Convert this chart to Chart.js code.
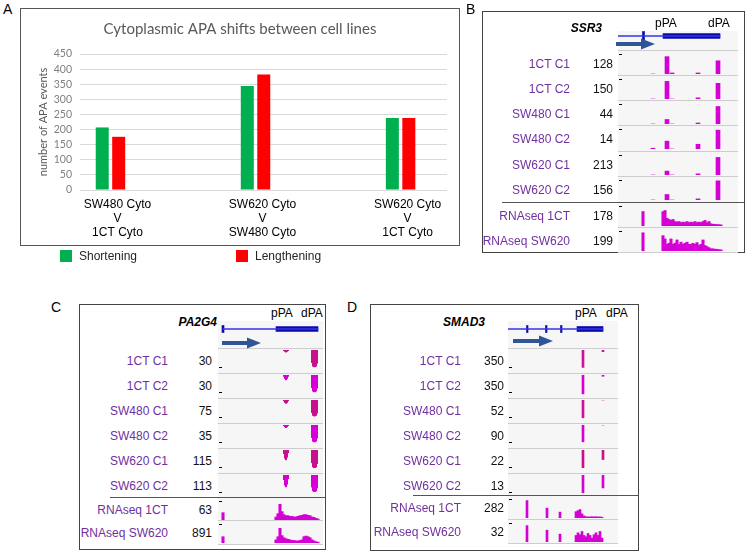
<!DOCTYPE html>
<html>
<head>
<meta charset="utf-8">
<script src="https://cdn.jsdelivr.net/npm/chart.js@4.4.0/dist/chart.umd.min.js"></script>
<style>
  body { margin: 0; width: 746px; height: 554px; position: relative; background: #fff; overflow: hidden;
         font-family: "Liberation Sans", Arial, sans-serif; }
  .abs { position: absolute; white-space: nowrap; }
  canvas { position: absolute; }
</style>
</head>
<body>
<canvas id="chartA" width="440" height="238" style="left:20px;top:8px;"></canvas>
<script>
// ---- Panel A data ----
const groupLabels = [['SW480 Cyto', 'V', '1CT Cyto'], ['SW620 Cyto', 'V', 'SW480 Cyto'], ['SW620 Cyto', 'V', '1CT Cyto']];
const seriesNames = ['Shortening', 'Lengthening'];
const shortening = [207, 344, 238];
const lengthening = [176, 382, 238];

// ---- Browser track data (panels B, C, D) ----
const trackNames = ['1CT C1', '1CT C2', 'SW480 C1', 'SW480 C2', 'SW620 C1', 'SW620 C2', 'RNAseq 1CT', 'RNAseq SW620'];

// SSR3
const ssr3Ranges = [128, 150, 44, 14, 213, 156, 178, 199];
const ssr3Intron = [-1, 102];
const ssr3Exons = [[24.5, 26.5, 9], [45, 102, 5]];
const ssr3PasX = [35, 49, 54, 80, 100];
const ssr3Pas = [
  [0, 101, 6, 6, 77],
  [0, 120, 0, 8, 107],
  [0, 9, 0, 2, 35],
  [0.5, 5, 0, 3, 12],
  [0, 38, 0, 11, 170],
  [0, 39, 0, 8, 136]
];
const ssr3RnaX = [25, 45, 47, 49, 51, 53, 55, 57, 59, 61, 63, 65, 67, 69, 71, 73, 75, 77, 79, 81, 83, 85, 87, 89, 91, 93, 95, 97, 99, 101, 103];
const ssr3Rna = [
  [117, 116, 125, 62, 53, 45, 53, 36, 32, 36, 27, 32, 27, 36, 27, 32, 27, 36, 27, 32, 27, 36, 45, 27, 36, 18, 14, 14, 11, 11, 9],
  [165, 139, 109, 60, 70, 109, 60, 70, 100, 60, 80, 60, 70, 80, 60, 60, 70, 60, 76, 50, 60, 100, 50, 40, 30, 20, 20, 16, 16, 12, 10]
];

// PA2G4
const pa2g4Ranges = [30, 30, 75, 35, 115, 113, 63, 891];
const pa2g4Intron = [5, 100];
const pa2g4Exons = [[4, 6, 7], [58, 100, 5]];
const pa2g4PasX = [66, 67, 68, 69, 70, 94, 95, 96, 97, 98, 99];
const pa2g4Pas = [
  [1, 2, 3, 2, 1, 18, 23, 24, 24, 23, 19],
  [2, 5, 7, 5, 2, 18, 23, 24, 24, 23, 19],
  [3, 9, 12, 9, 3, 45, 55, 57, 57, 55, 47],
  [1, 3, 4.5, 3, 1, 21, 27, 28, 28, 27, 22],
  [20, 45, 54, 40, 15, 70, 92, 97, 97, 93, 75],
  [25, 55, 64, 50, 20, 65, 85, 89, 89, 86, 70]
];
const pa2g4RnaX = [5, 58, 60, 62, 64, 66, 68, 70, 72, 74, 76, 78, 80, 82, 84, 86, 88, 90, 92, 94, 96, 98, 100];
const pa2g4Rna = [
  [22, 9, 19, 47, 25, 16, 13, 13, 11, 11, 9, 9, 11, 13, 14, 16, 16, 14, 13, 9, 8, 5, 3],
  [267, 134, 267, 624, 312, 223, 178, 160, 134, 107, 107, 89, 89, 107, 134, 267, 294, 267, 223, 134, 89, 53, 36]
];

// SMAD3
const smad3Ranges = [350, 350, 52, 90, 22, 13, 282, 32];
const smad3Intron = [0, 95];
const smad3Exons = [[18.5, 20, 7], [37.5, 39, 7], [52.5, 54, 7], [69, 95, 5]];
const smad3PasX = [75, 95];
const smad3Pas = [[290, 28], [315, 21], [44, 0], [72, 0], [18.5, 10], [11, 8]];
const smad3RnaX = [19, 39, 52, 68, 70, 72, 74, 76, 78, 80, 82, 84, 86, 88, 90, 92, 94];
const smad3Rna = [
  [234, 133, 79, 85, 99, 113, 56, 28, 17, 14, 14, 17, 14, 17, 14, 14, 11],
  [25, 18, 12, 10, 14, 11, 16, 10, 8, 13, 10, 6, 11, 14, 10, 16, 6]
];

// small DOM helpers
function box(css) {
  const d = document.createElement('div');
  d.className = 'abs';
  d.style.cssText += css;
  document.body.appendChild(d);
  return d;
}
function text(t, css) {
  const d = box(css);
  d.textContent = t;
  return d;
}

// ---- Panel A ----
text('A', 'left:3px;top:2px;font-size:14px;line-height:14px;');
box('left:20px;top:8px;width:438px;height:236px;border:1px solid #555;');

const colorsA = ['#00b050', '#ff0000'];
const chartA = new Chart(document.getElementById('chartA'), {
  type: 'bar',
  data: {
    datasets: [shortening, lengthening].map((vals, k) => ({
      label: seriesNames[k],
      data: vals.map((v, i) => ({ x: i, y: v })),
      backgroundColor: colorsA[k],
      categoryPercentage: 0.227,
      barPercentage: 0.79
    }))
  },
  options: {
    responsive: false,
    animation: false,
    events: [],
    layout: { padding: { left: 13, right: 13, top: 0, bottom: 0 } },
    plugins: {
      legend: { display: false },
      tooltip: { enabled: false },
      title: {
        display: true,
        text: 'Cytoplasmic APA shifts between cell lines',
        color: '#595959',
        font: { family: 'Lato', size: 15, weight: 'normal' },
        padding: { top: 12, bottom: 16 }
      }
    },
    scales: {
      x: {
        type: 'linear',
        offset: false,
        min: -0.21,
        max: 2.32,
        grid: { display: false },
        border: { display: false },
        afterBuildTicks: s => { s.ticks = groupLabels.map((g, i) => ({ value: i })); },
        afterFit: s => { s.height = 56; },
        ticks: {
          callback: v => groupLabels[v],
          color: '#000',
          font: { family: 'Liberation Sans', size: 12 },
          padding: -1,
          labelOffset: 7,
          maxRotation: 0,
          autoSkip: false
        }
      },
      y: {
        min: 0,
        max: 450,
        afterFit: s => { s.width = 47; },
        ticks: { stepSize: 50, autoSkip: false, color: '#7f7f7f', font: { family: 'Lato', size: 10.5 }, padding: 8 },
        grid: { color: '#d9d9d9', drawTicks: false },
        border: { display: false },
        title: { display: true, text: 'number of APA events', color: '#595959', font: { family: 'Lato', size: 11 } }
      }
    }
  }
});

// html legend under the box, built from the datasets
const legendX = [60, 236];
chartA.data.datasets.forEach((ds, k) => {
  box(`left:${legendX[k]}px;top:250px;width:12px;height:12px;background:${ds.backgroundColor};`);
  text(ds.label, `left:${legendX[k] + 19}px;top:248px;font-size:12px;line-height:16px;color:#262626;`);
});

// ---- Panels B, C, D ----
const panels = [
  {
    letter: 'B', letterPos: [466, 2], frame: [482, 11, 261, 240],
    gene: 'SSR3', geneRight: 602, geneY: 28, pPA: 655, dPA: 708, paY: 23,
    trackX: 618, trackW: 120, modelTop: 31, modelY: 36, arrow: [616, 655, 42],
    rowTops: [50, 75, 100, 125, 151, 176, 202, 227], rowH: 25,
    labelRight: 570, numRight: 613, divider: [502, 744],
    ranges: ssr3Ranges, intron: ssr3Intron, exons: ssr3Exons,
    pasX: ssr3PasX, pas: ssr3Pas, rnaX: ssr3RnaX, rna: ssr3Rna,
    inverted: false, pasBar: 4, rnaBar: 2.4,
    pasColors: ['#d400d4', '#d400d4', '#d400d4', '#d400d4', '#d400d4', '#d400d4']
  },
  {
    letter: 'C', letterPos: [51, 300], frame: [79, 304, 245, 244],
    gene: 'PA2G4', geneRight: 217, geneY: 322, pPA: 271, dPA: 301, paY: 313,
    trackX: 218, trackW: 105, modelTop: 321, modelY: 329, arrow: [222, 261, 341],
    rowTops: [348, 373, 398, 423, 448, 473, 497, 520], rowH: 24,
    labelRight: 168, numRight: 212, divider: [110, 325],
    ranges: pa2g4Ranges, intron: pa2g4Intron, exons: pa2g4Exons,
    pasX: pa2g4PasX, pas: pa2g4Pas, rnaX: pa2g4RnaX, rna: pa2g4Rna,
    inverted: true, pasBar: 1.4, rnaBar: 2.4,
    pasColors: ['#c8108c', '#d400d4', '#c8108c', '#d400d4', '#c8108c', '#d400d4']
  },
  {
    letter: 'D', letterPos: [347, 300], frame: [370, 304, 267, 245],
    gene: 'SMAD3', geneRight: 485, geneY: 322, pPA: 575, dPA: 606, paY: 313,
    trackX: 508, trackW: 110, modelTop: 321, modelY: 329, arrow: [513, 553, 339],
    rowTops: [348, 373, 398, 423, 448, 473, 495, 519], rowH: 24,
    labelRight: 461, numRight: 504, divider: [413, 638],
    ranges: smad3Ranges, intron: smad3Intron, exons: smad3Exons,
    pasX: smad3PasX, pas: smad3Pas, rnaX: smad3RnaX, rna: smad3Rna,
    inverted: true, pasBar: 2, rnaBar: 2,
    pasColors: ['#d0109a', '#d400d4', '#d0109a', '#d400d4', '#c8108c', '#d400d4']
  }
];

function trackChart(left, top, w, h, xs, vals, max, color, thick, reverse) {
  const c = document.createElement('canvas');
  c.width = w;
  c.height = h;
  c.style.left = left + 'px';
  c.style.top = top + 'px';
  document.body.appendChild(c);
  new Chart(c, {
    type: 'bar',
    data: { datasets: [{ data: xs.map((x, i) => ({ x, y: vals[i] })), backgroundColor: color, barThickness: thick }] },
    options: {
      responsive: false, animation: false, events: [],
      plugins: { legend: { display: false }, tooltip: { enabled: false } },
      layout: { padding: 0 },
      scales: {
        x: { type: 'linear', offset: false, min: 0, max: w, display: false },
        y: { min: 0, max, reverse, display: false }
      }
    }
  });
}

function geneModel(p) {
  const c = document.createElement('canvas');
  c.width = p.trackW;
  c.height = 12;
  c.style.left = p.trackX + 'px';
  c.style.top = (p.modelY - 6) + 'px';
  document.body.appendChild(c);
  const sets = [{ data: [p.intron], backgroundColor: '#3535e8', barThickness: 1, grouped: false }];
  p.exons.forEach(e => sets.push({ data: [[e[0], e[1]]], backgroundColor: '#0a0aa8', barThickness: e[2], grouped: false }));
  new Chart(c, {
    type: 'bar',
    data: { labels: [p.gene], datasets: sets },
    options: {
      indexAxis: 'y', responsive: false, animation: false, events: [],
      plugins: { legend: { display: false }, tooltip: { enabled: false } },
      scales: { x: { type: 'linear', min: 0, max: p.trackW, display: false }, y: { display: false } }
    }
  });
  // direction arrow
  const [x1, x2, y] = p.arrow;
  const L = x2 - x1;
  const svg = box(`left:${x1}px;top:${y - 6}px;width:${L}px;height:12px;`);
  svg.innerHTML = `<svg width="${L}" height="12"><polygon fill="#2f5597" points="0,4 ${L - 14},4 ${L - 14},0.5 ${L},6 ${L - 14},11.5 ${L - 14},8 0,8"/></svg>`;
}

panels.forEach(p => {
  const [fx, fy, fw, fh] = p.frame;
  text(p.letter, `left:${p.letterPos[0]}px;top:${p.letterPos[1]}px;font-size:14px;line-height:14px;`);
  box(`left:${fx}px;top:${fy}px;width:${fw}px;height:${fh}px;border:1px solid #444;`);
  const last = p.rowTops[p.rowTops.length - 1] + p.rowH;
  box(`left:${p.trackX}px;top:${p.modelTop}px;width:${p.trackW}px;height:${last - p.modelTop}px;background:#f6f6f6;`);
  p.rowTops.forEach(t => box(`left:${p.trackX}px;top:${t}px;width:${p.trackW}px;height:1px;background:#cdcdcd;`));
  box(`left:${p.trackX}px;top:${last}px;width:${p.trackW}px;height:1px;background:#cdcdcd;`);
  box(`left:${p.divider[0]}px;top:${p.rowTops[6]}px;width:${p.divider[1] - p.divider[0]}px;height:1px;background:#555;`);

  text(p.gene, `right:${746 - p.geneRight}px;top:${p.geneY - 8}px;font-size:12px;line-height:16px;font-weight:bold;font-style:italic;`);
  text('pPA', `left:${p.pPA}px;top:${p.paY - 8}px;font-size:12px;line-height:16px;`);
  text('dPA', `left:${p.dPA}px;top:${p.paY - 8}px;font-size:12px;line-height:16px;`);
  geneModel(p);

  trackNames.forEach((name, i) => {
    const top = p.rowTops[i];
    const cy = top + p.rowH / 2 + 1;
    text(name, `right:${746 - p.labelRight}px;top:${cy - 8}px;font-size:12px;line-height:16px;color:#7030a0;`);
    text(String(p.ranges[i]), `right:${746 - p.numRight}px;top:${cy - 8}px;font-size:12px;line-height:16px;color:#111;`);
    const isRna = i >= 6;
    const inv = p.inverted && !isRna;
    box(`left:${p.trackX + 1}px;top:${inv ? top + p.rowH - 5 : top + 4}px;width:3px;height:1px;background:#000;`);
    if (isRna) {
      trackChart(p.trackX, top + 2, p.trackW, p.rowH - 3, p.rnaX, p.rna[i - 6], p.ranges[i], '#d400d4', p.rnaBar, false);
    } else {
      trackChart(p.trackX, top + 2, p.trackW, p.rowH - 3, p.pasX, p.pas[i], p.ranges[i], p.pasColors[i], p.pasBar, inv);
    }
  });
});
</script>
</body>
</html>
